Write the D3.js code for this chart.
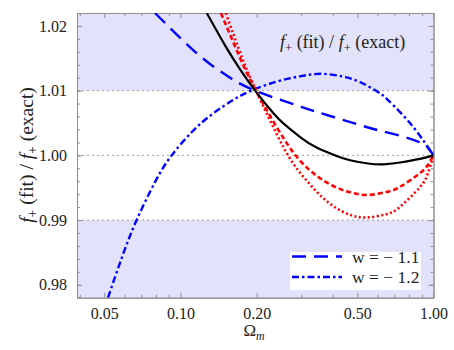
<!DOCTYPE html>
<html>
<head>
<meta charset="utf-8">
<title>f+ (fit) / f+ (exact)</title>
<style>
  body { margin: 0; background: #fff; }
  svg text { font-family: "Liberation Serif", "DejaVu Serif", serif; fill: #222; }
  .axis path, .axis line { stroke: #8f8f8f; }
</style>
</head>
<body>
<svg id="chart" width="454" height="350"></svg>
<script src="https://cdnjs.cloudflare.com/ajax/libs/d3/7.8.5/d3.min.js"></script>
<script>
// ticks
const xTicks = [0.05, 0.1, 0.2, 0.5, 1.0];
const xMinor = [0.04, 0.06, 0.07, 0.08, 0.09, 0.3, 0.4, 0.6, 0.7, 0.8, 0.9];
const yTicks = [0.98, 0.99, 1.00, 1.01, 1.02];
const yMinor = d3.range(0.978, 1.0221, 0.002);
const gridLines = [0.99, 1.00, 1.01];
const bands = [[1.01, 1.022], [0.978, 0.99]];

// curves
const omBlack = [0.127, 0.15, 0.172, 0.2, 0.233, 0.255, 0.3, 0.345, 0.414, 0.468, 0.56, 0.65, 0.737, 0.884, 1.0];
const fBlack  = [1.022, 1.0170, 1.0133, 1.0097, 1.0065, 1.00495, 1.0027, 1.0012, 0.9999, 0.99925, 0.9987, 0.99865, 0.9989, 0.99945, 1.0];

const omRedDash = [0.1445, 0.17, 0.2, 0.255, 0.3, 0.345, 0.4, 0.468, 0.553, 0.65, 0.737, 0.884, 0.95, 1.0];
const fRedDash  = [1.022, 1.0155, 1.0098, 1.0027, 0.9990, 0.99685, 0.9953, 0.99428, 0.99388, 0.99432, 0.99512, 0.99725, 0.9985, 1.0];

const omRedDot = [0.151, 0.175, 0.2, 0.255, 0.3, 0.345, 0.4, 0.468, 0.545, 0.65, 0.737, 0.884, 0.95, 1.0];
const fRedDot  = [1.022, 1.0151, 1.0098, 1.0013, 0.9971, 0.9944, 0.9922, 0.9908, 0.9904, 0.9909, 0.99205, 0.9951, 0.9972, 1.0];

const omW11 = [0.0793, 0.1058, 0.13, 0.157, 0.2, 0.3, 0.367, 0.5, 0.615, 0.76, 0.884, 0.95, 1.0];
const fW11  = [1.022, 1.0172, 1.0142, 1.0120, 1.0099, 1.0075, 1.0064, 1.0048, 1.0038, 1.0029, 1.0020, 1.0012, 1.0];

const omW12 = [0.0517, 0.0589, 0.0671, 0.0794, 0.0923, 0.1122, 0.1349, 0.1622, 0.1905, 0.2399, 0.2951, 0.357, 0.4365, 0.514, 0.6026, 0.655, 0.741, 0.835, 0.9226, 1.0];
const fW12  = [0.978, 0.9844, 0.99, 0.9959, 1.0, 1.0038, 1.0065, 1.0086, 1.0100, 1.0114, 1.0122, 1.0126, 1.0122, 1.0113, 1.0098, 1.0087, 1.0066, 1.0043, 1.0020, 1.0];

const legendLabels = ["w = \u2212 1.1", "w = \u2212 1.2"];

const svg = d3.select('#chart');
const plotL = 77, plotR = 433.5, plotT = 13, plotB = 297.7;

const x = d3.scaleLog().domain([0.039, 1]).range([plotL, plotR]);
const y = d3.scaleLinear().domain([0.978, 1.022]).range([plotB, plotT]);

// shaded bands
svg.append('g').selectAll('rect')
  .data(bands)
  .enter().append('rect')
  .attr('x', plotL)
  .attr('width', plotR - plotL)
  .attr('y', d => y(d[1]))
  .attr('height', d => y(d[0]) - y(d[1]))
  .attr('fill', '#e2e2fb');

// dotted grid lines
svg.append('g').selectAll('line')
  .data(gridLines)
  .enter().append('line')
  .attr('x1', plotL).attr('x2', plotR)
  .attr('y1', d => y(d)).attr('y2', d => y(d))
  .attr('stroke', '#888')
  .attr('stroke-width', 0.8)
  .attr('stroke-dasharray', '2,3');

// axes, ticks pointing inward
const fmt2 = d3.format('.2f');
svg.append('g').attr('class', 'axis')
  .attr('transform', `translate(0,${plotB})`)
  .call(d3.axisBottom(x).tickValues(xTicks).tickFormat(fmt2).tickSizeInner(-5).tickSizeOuter(0).tickPadding(10));
svg.append('g').attr('class', 'axis')
  .attr('transform', `translate(0,${plotB})`)
  .call(d3.axisBottom(x).tickValues(xMinor).tickFormat('').tickSizeInner(-3).tickSizeOuter(0));
svg.append('g').attr('class', 'axis')
  .attr('transform', `translate(0,${plotT})`)
  .call(d3.axisTop(x).tickValues(xTicks).tickFormat('').tickSizeInner(-5).tickSizeOuter(0));
svg.append('g').attr('class', 'axis')
  .attr('transform', `translate(0,${plotT})`)
  .call(d3.axisTop(x).tickValues(xMinor).tickFormat('').tickSizeInner(-3).tickSizeOuter(0));

svg.append('g').attr('class', 'axis')
  .attr('transform', `translate(${plotL},0)`)
  .call(d3.axisLeft(y).tickValues(yTicks).tickFormat(fmt2).tickSizeInner(-5).tickSizeOuter(0).tickPadding(10));
svg.append('g').attr('class', 'axis')
  .attr('transform', `translate(${plotL},0)`)
  .call(d3.axisLeft(y).tickValues(yMinor).tickFormat('').tickSizeInner(-3).tickSizeOuter(0));
svg.append('g').attr('class', 'axis')
  .attr('transform', `translate(${plotR},0)`)
  .call(d3.axisRight(y).tickValues(yTicks).tickFormat('').tickSizeInner(-5).tickSizeOuter(0));
svg.append('g').attr('class', 'axis')
  .attr('transform', `translate(${plotR},0)`)
  .call(d3.axisRight(y).tickValues(yMinor).tickFormat('').tickSizeInner(-3).tickSizeOuter(0));

svg.selectAll('.axis')
  .attr('font-family', '"Liberation Serif", serif');
svg.selectAll('.axis text')
  .style('font-family', '"Liberation Serif", serif')
  .attr('font-size', 16)
  .attr('fill', '#222');

// curves
svg.append('clipPath').attr('id', 'plotclip')
  .append('rect').attr('x', plotL).attr('y', plotT)
  .attr('width', plotR - plotL).attr('height', plotB - plotT);

const line = d3.line()
  .x(d => x(d[0]))
  .y(d => y(d[1]))
  .curve(d3.curveNatural);

const series = [
  { om: omW11, f: fW11, color: '#0000ff', width: 2.4, dash: '14,8' },
  { om: omW12, f: fW12, color: '#0000ff', width: 2.4, dash: '7,3,2.5,3' },
  { om: omRedDash, f: fRedDash, color: '#ff0000', width: 2.6, dash: '5,3' },
  { om: omRedDot, f: fRedDot, color: '#ff0000', width: 2.6, dash: '2,2.5' },
  { om: omBlack, f: fBlack, color: '#000', width: 2.2, dash: null }
];

svg.append('g').attr('clip-path', 'url(#plotclip)')
  .selectAll('path')
  .data(series)
  .enter().append('path')
  .attr('d', s => line(s.om.map((o, i) => [o, s.f[i]])))
  .attr('fill', 'none')
  .attr('stroke', s => s.color)
  .attr('stroke-width', s => s.width)
  .attr('stroke-dasharray', s => s.dash);

// f+ label helper
function fPlus(sel) {
  sel.append('tspan').attr('font-style', 'italic').text('f');
  sel.append('tspan').attr('font-size', '70%').attr('dy', 4).text('+');
}
function label(sel) {
  fPlus(sel);
  sel.append('tspan').attr('dy', -4).text(' (fit) / ');
  fPlus(sel);
  sel.append('tspan').attr('dy', -4).text(' (exact)');
}

svg.append('text')
  .attr('x', 280).attr('y', 48)
  .attr('font-size', 18)
  .call(label);

svg.append('text')
  .attr('transform', 'translate(33,155) rotate(-90)')
  .attr('text-anchor', 'middle')
  .attr('font-size', 19.5)
  .call(label);

const xl = svg.append('text')
  .attr('x', 254).attr('y', 336)
  .attr('text-anchor', 'middle')
  .attr('font-size', 17);
xl.append('tspan').text('\u03A9');
xl.append('tspan').attr('font-size', '70%').attr('font-style', 'italic').attr('dy', 4).text('m');

// legend
const lg = svg.append('g');
lg.append('rect')
  .attr('x', 290).attr('y', 252)
  .attr('width', 131).attr('height', 38)
  .attr('fill', '#fff');
lg.selectAll('line')
  .data(series.slice(0, 2))
  .enter().append('line')
  .attr('x1', 292).attr('x2', 342)
  .attr('y1', (s, i) => 256.5 + i * 20.5)
  .attr('y2', (s, i) => 256.5 + i * 20.5)
  .attr('stroke', s => s.color)
  .attr('stroke-width', s => s.width)
  .attr('stroke-dasharray', s => s.dash);
lg.selectAll('text')
  .data(legendLabels)
  .enter().append('text')
  .attr('x', 352)
  .attr('y', (d, i) => 262.5 + i * 20.5)
  .attr('font-size', 17.5)
  .text(d => d);
</script>
</body>
</html>
